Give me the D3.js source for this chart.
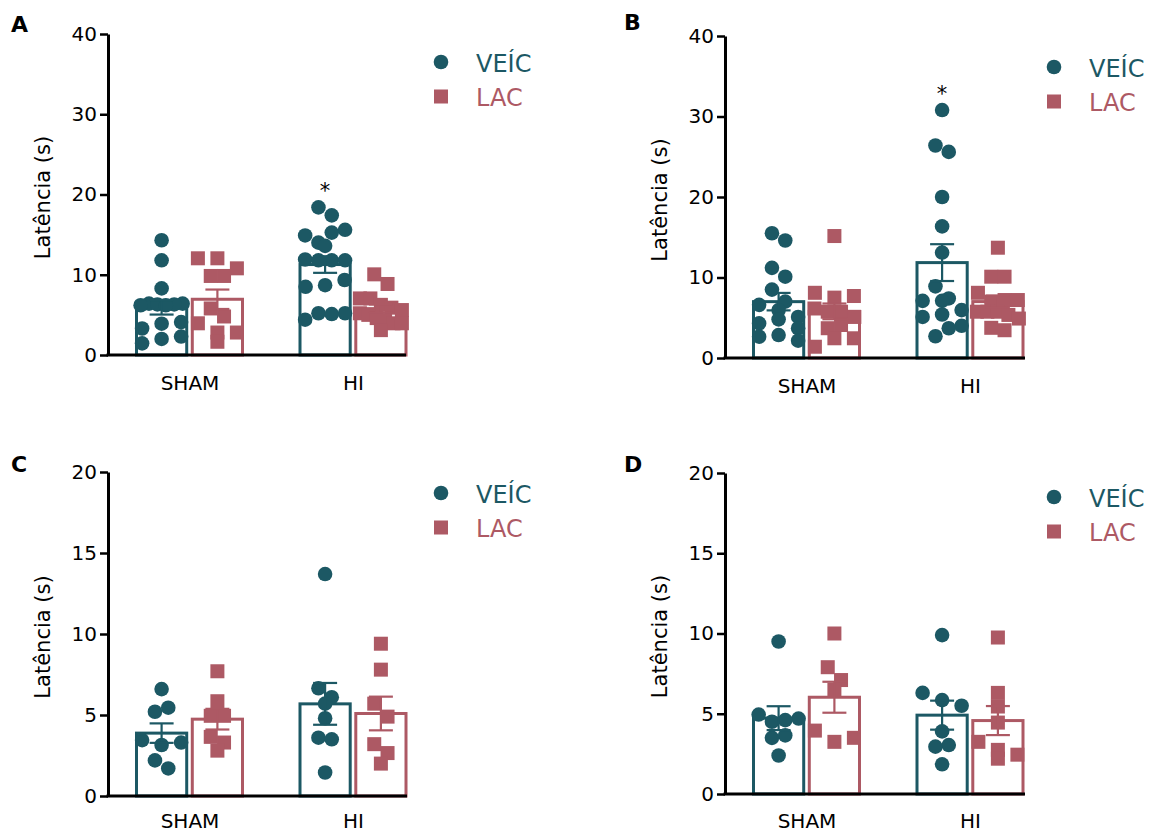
<!DOCTYPE html>
<html><head><meta charset="utf-8">
<script src="https://cdn.jsdelivr.net/npm/d3@7"></script>
<style>body{margin:0;background:#fff}svg{display:block;font-family:"DejaVu Sans",sans-serif}</style>
</head><body>
<svg id="chart" width="1157" height="834"></svg>
<script>
// ---------------- DATA ----------------
const categories = ["SHAM", "HI"];
const seriesNames = ["VEÍC", "LAC"];
const panelLabels = ["A", "B", "C", "D"];
const yAxisTitle = "Latência (s)";
const yTicksAB = [0, 10, 20, 30, 40];
const yTicksCD = [0, 5, 10, 15, 20];

// Panel A
const aShamVeic = [14.3, 11.8, 8.3, 6.2, 6.4, 6.3, 6.2, 6.3, 6.4, 3.3, 3.9, 4.1, 1.45, 2.0, 2.3];
const aShamLac  = [12.05, 12.05, 10.8, 9.85, 9.85, 5.8, 4.8, 3.95, 2.8, 2.8, 1.65];
const aHiVeic   = [18.4, 17.4, 14.9, 14.0, 15.25, 15.6, 13.6, 11.9, 11.8, 11.8, 11.8, 8.5, 8.7, 9.35, 4.4, 5.2, 5.1, 5.2];
const aHiLac    = [10.05, 8.85, 7.05, 7.05, 6.25, 5.9, 5.6, 5.2, 5.0, 4.6, 4.3, 3.95, 3.95, 3.1];
// Panel B
const bShamVeic = [15.5, 14.6, 11.2, 10.1, 8.5, 6.6, 5.95, 7.0, 4.3, 4.8, 5.1, 3.7, 2.65, 2.85, 2.15];
const bShamLac  = [15.15, 8.1, 7.5, 7.7, 6.15, 5.75, 5.75, 5.1, 3.7, 4.1, 1.4, 2.45, 2.45];
const bHiVeic   = [30.8, 26.4, 25.6, 20.0, 16.35, 13.1, 8.9, 7.1, 7.1, 7.4, 5.95, 5.1, 5.4, 2.7, 3.7, 4.0];
const bHiLac    = [13.7, 10.1, 10.1, 8.1, 7.0, 7.2, 7.2, 5.75, 5.75, 5.75, 5.35, 4.9, 3.75, 3.45];
// Panel C
const cShamVeic = [6.6, 5.2, 5.45, 3.45, 3.15, 3.3, 2.2, 1.7];
const cShamLac  = [7.7, 5.85, 4.95, 4.95, 3.65, 2.8, 3.3];
const cHiVeic   = [13.7, 6.65, 6.1, 5.7, 4.8, 3.6, 3.5, 1.45];
const cHiLac    = [9.4, 7.8, 5.7, 4.9, 3.2, 2.0, 2.65];
// Panel D
const dShamVeic = [9.5, 4.95, 4.5, 4.6, 4.7, 3.5, 3.65, 2.4];
const dShamLac  = [10.0, 7.9, 6.5, 7.1, 3.95, 3.25, 3.5];
const dHiVeic   = [9.9, 6.3, 5.85, 5.5, 3.9, 2.95, 3.05, 1.85];
const dHiLac    = [9.75, 6.3, 5.45, 4.45, 3.25, 2.75, 2.2, 2.45];

// significance markers: [panel index, category, series]
const significance = [[0, "HI", "VEÍC"], [1, "HI", "VEÍC"]];

// ---------------- LAYOUT / STYLE ----------------
const colors = {"VEÍC": "#1c5864", "LAC": "#ad5964"};
const panelData = [
  {SHAM: {"VEÍC": aShamVeic, LAC: aShamLac}, HI: {"VEÍC": aHiVeic, LAC: aHiLac}},
  {SHAM: {"VEÍC": bShamVeic, LAC: bShamLac}, HI: {"VEÍC": bHiVeic, LAC: bHiLac}},
  {SHAM: {"VEÍC": cShamVeic, LAC: cShamLac}, HI: {"VEÍC": cHiVeic, LAC: cHiLac}},
  {SHAM: {"VEÍC": dShamVeic, LAC: dShamLac}, HI: {"VEÍC": dHiVeic, LAC: dHiLac}}
];
const layout = [
  {ax: 108, y0: 355, yTop: 34, xEnd: 406, ticks: yTicksAB, lab: [11, 32], leg: [441, 62], xpad: 21},
  {ax: 725, y0: 358, yTop: 36, xEnd: 1025, ticks: yTicksAB, lab: [624, 30], leg: [1054, 67], xpad: 21},
  {ax: 108, y0: 796, yTop: 472, xEnd: 407, ticks: yTicksCD, lab: [11, 472], leg: [441, 493], xpad: 18},
  {ax: 725, y0: 794, yTop: 473, xEnd: 1025, ticks: yTicksCD, lab: [624, 472], leg: [1054, 497], xpad: 20}
];

const svg = d3.select("#chart");
const R = 7.3, SQ = 14;

function layoutPoints(vals, y) {
  // group into rows by pixel height, centre each row
  const items = vals.map((v, i) => ({v, i, py: y(v)})).sort((a, b) => a.py - b.py);
  const rows = [];
  items.forEach(it => {
    const last = rows[rows.length - 1];
    if (last && it.py - last[0].py < 13) last.push(it); else rows.push([it]);
  });
  rows.forEach(row => {
    const n = row.length;
    const sp = n === 1 ? 0 : Math.min(n === 3 ? 19.5 : 13.3, 42 / (n - 1));
    row.sort((a, b) => a.i - b.i).forEach((it, k) => it.dx = (k - (n - 1) / 2) * sp);
  });
  return items;
}

layout.forEach((L, pi) => {
  const g = svg.append("g");
  const ymax = d3.max(L.ticks);
  const y = d3.scaleLinear().domain([0, ymax]).range([L.y0, L.yTop]);
  const x = d3.scalePoint().domain(categories).range([L.ax + 81.5, L.ax + 245]);
  const xs = d3.scaleBand().domain(seriesNames).range([-53, 53]).paddingInner(0.1);
  const data = panelData[pi];

  // bars
  categories.forEach(cat => seriesNames.forEach(s => {
    const vals = data[cat][s];
    const m = d3.mean(vals);
    const sem = d3.deviation(vals) / Math.sqrt(vals.length);
    const bx = x(cat) + xs(s);
    const c = colors[s];
    g.append("rect").attr("x", bx).attr("y", y(m)).attr("width", xs.bandwidth())
      .attr("height", L.y0 - y(m)).attr("fill", "#fff").attr("stroke", c).attr("stroke-width", 3);
    const cx = bx + xs.bandwidth() / 2;
    // points
    const pts = layoutPoints(vals, y);
    pts.forEach(p => {
      if (s === "VEÍC") g.append("circle").attr("cx", cx + p.dx).attr("cy", p.py).attr("r", R).attr("fill", c);
      else g.append("rect").attr("x", cx + p.dx - SQ / 2).attr("y", p.py - SQ / 2)
        .attr("width", SQ).attr("height", SQ).attr("fill", c);
    });
    // error bars
    const eg = g.append("g").attr("stroke", c).attr("stroke-width", 2.2);
    eg.append("line").attr("x1", cx).attr("x2", cx).attr("y1", y(m + sem)).attr("y2", y(m - sem));
    [m + sem, m - sem].forEach(v => eg.append("line").attr("x1", cx - 12).attr("x2", cx + 12)
      .attr("y1", y(v)).attr("y2", y(v)));
    // significance
    significance.filter(d => d[0] === pi && d[1] === cat && d[2] === s).forEach(() => {
      g.append("text").attr("x", cx).attr("y", y(d3.max(vals)) - 9).attr("text-anchor", "middle")
        .attr("font-size", 21).attr("fill", "#000").text("*");
    });
  }));

  // y axis
  const yAxis = d3.axisLeft(y).tickValues(L.ticks).tickSize(8).tickSizeOuter(0).tickPadding(3);
  const ga = g.append("g").attr("transform", `translate(${L.ax},0)`).call(yAxis);
  ga.select(".domain").attr("stroke-width", 3).attr("stroke", "#000");
  ga.selectAll(".tick line").attr("stroke-width", 2.5).attr("stroke", "#000");
  ga.selectAll(".tick text").attr("font-size", 20).attr("fill", "#000").attr("font-family", "DejaVu Sans");
  // x axis
  g.append("line").attr("x1", L.ax - 1.5).attr("x2", L.xEnd).attr("y1", L.y0).attr("y2", L.y0)
    .attr("stroke", "#000").attr("stroke-width", 3);
  const xAxis = d3.axisBottom(x).tickSize(0).tickPadding(L.xpad);
  const gx = g.append("g").attr("transform", `translate(0,${L.y0})`).call(xAxis);
  gx.select(".domain").remove();
  gx.selectAll(".tick text").attr("font-size", 20).attr("fill", "#000").attr("font-family", "DejaVu Sans");

  // y title
  g.append("text").attr("transform", `translate(${L.ax - 58},${(L.y0 + L.yTop) / 2 + 3}) rotate(-90)`)
    .attr("text-anchor", "middle").attr("font-size", 21).attr("fill", "#000").text(yAxisTitle);
  // panel label
  g.append("text").attr("x", L.lab[0]).attr("y", L.lab[1]).attr("font-size", 22)
    .attr("font-weight", "bold").attr("fill", "#000").text(panelLabels[pi]);
  // legend
  seriesNames.forEach((s, k) => {
    const ly = L.leg[1] + k * 34.5;
    if (s === "VEÍC") g.append("circle").attr("cx", L.leg[0]).attr("cy", ly).attr("r", R).attr("fill", colors[s]);
    else g.append("rect").attr("x", L.leg[0] - SQ / 2).attr("y", ly - SQ / 2).attr("width", SQ).attr("height", SQ).attr("fill", colors[s]);
    g.append("text").attr("x", L.leg[0] + 35).attr("y", ly + 9.5).attr("font-size", 24)
      .attr("fill", colors[s]).text(s);
  });
});
</script>
</body></html>
